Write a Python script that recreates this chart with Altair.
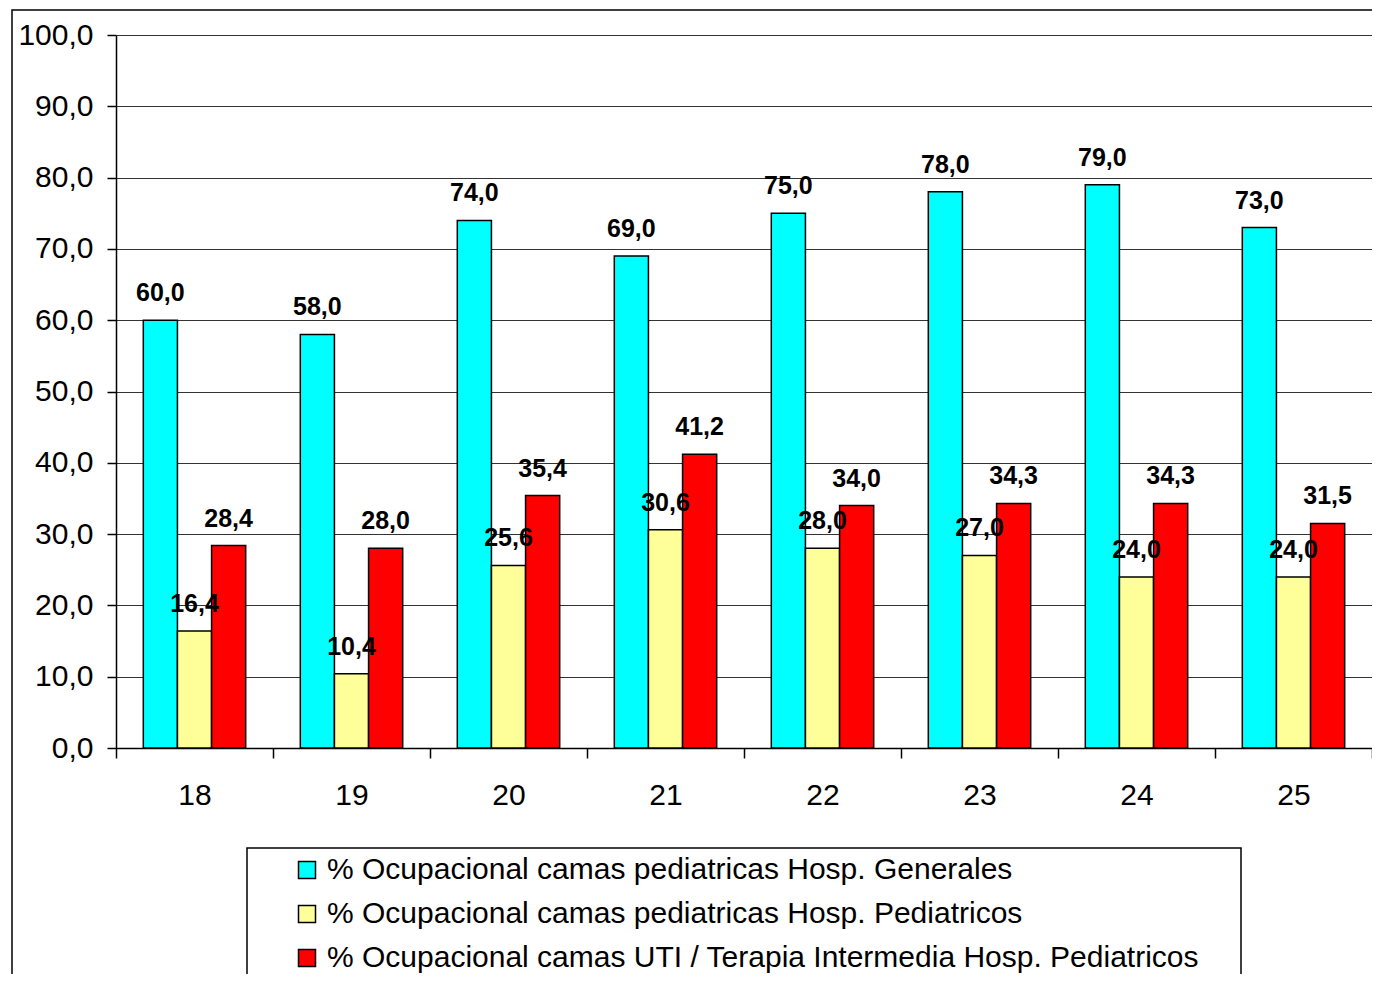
import altair as alt
import pandas as pd

categories = ["18", "19", "20", "21", "22", "23", "24", "25"]
series = [
    "% Ocupacional camas pediatricas Hosp. Generales",
    "% Ocupacional camas pediatricas Hosp. Pediatricos",
    "% Ocupacional camas UTI / Terapia Intermedia Hosp. Pediatricos",
]
generales = [60.0, 58.0, 74.0, 69.0, 75.0, 78.0, 79.0, 73.0]
pediatricos = [16.4, 10.4, 25.6, 30.6, 28.0, 27.0, 24.0, 24.0]
uti = [28.4, 28.0, 35.4, 41.2, 34.0, 34.3, 34.3, 31.5]
colors = ["#00FFFF", "#FFFF99", "#FF0000"]
y_ticks = [0, 10, 20, 30, 40, 50, 60, 70, 80, 90, 100]

rows = []
for s, vals in zip(series, [generales, pediatricos, uti]):
    for c, v in zip(categories, vals):
        rows.append({"cat": c, "serie": s, "valor": v})
df = pd.DataFrame(rows)

FONT = "Liberation Sans"

x_enc = alt.X(
    "cat:N",
    sort=categories,
    scale=alt.Scale(paddingInner=0, paddingOuter=0, round=False),
    axis=alt.Axis(
        title=None,
        labelAngle=0,
        tickBand="extent",
        labelFont=FONT,
        labelFontSize=30,
        labelColor="black",
        labelPadding=22,
        tickSize=10,
        tickColor="black",
        tickWidth=1.5,
        domainColor="black",
        domainWidth=1.5,
        grid=False,
    ),
)
xo_enc = alt.XOffset(
    "serie:N", sort=series, scale=alt.Scale(paddingInner=0, paddingOuter=0.8, round=False)
)
y_enc = alt.Y(
    "valor:Q",
    scale=alt.Scale(domain=[0, 100], nice=False),
    axis=alt.Axis(
        title=None,
        values=y_ticks,
        labelExpr="replace(format(datum.value, '.1f'), '.', ',')",
        labelFont=FONT,
        labelFontSize=30,
        labelColor="black",
        labelPadding=14,
        tickSize=9,
        tickColor="black",
        tickWidth=1.5,
        domainColor="black",
        domainWidth=1.5,
        grid=True,
        gridColor="#333333",
        gridWidth=1,
    ),
)

bars = (
    alt.Chart(df)
    .mark_bar(stroke="black", strokeWidth=1.5)
    .encode(
        x=x_enc,
        xOffset=xo_enc,
        y=y_enc,
        color=alt.Color(
            "serie:N",
            sort=series,
            scale=alt.Scale(domain=series, range=colors),
            legend=alt.Legend(
                title=None,
                orient="none",
                legendX=176,
                legendY=820,
                direction="vertical",
                symbolType="square",
                symbolSize=289,
                symbolStrokeColor="black",
                symbolStrokeWidth=1.5,
                labelFont=FONT,
                labelFontSize=30,
                labelColor="black",
                labelLimit=0,
                labelOffset=5,
                rowPadding=14,
                padding=0,
            ),
        ),
    )
)

labels = (
    alt.Chart(df)
    .transform_calculate(label="replace(format(datum.valor, '.1f'), '.', ',')")
    .mark_text(
        font=FONT,
        fontWeight="bold",
        fontSize=25,
        baseline="alphabetic",
        align="center",
        dy=-19,
        color="black",
    )
    .encode(x=x_enc, xOffset=xo_enc, y=y_enc, text="label:N")
)

frame_df = pd.DataFrame({"d": [0]})
outer_frame = (
    alt.Chart(frame_df)
    .mark_rect(fillOpacity=0, stroke="black", strokeWidth=1.5)
    .encode(x=alt.value(-104), x2=alt.value(1400), y=alt.value(-25), y2=alt.value(1000))
)
legend_frame = (
    alt.Chart(frame_df)
    .mark_rect(fillOpacity=0, stroke="black", strokeWidth=1.5)
    .encode(x=alt.value(131), x2=alt.value(1125), y=alt.value(813), y2=alt.value(1000))
)

chart = (
    alt.layer(bars, labels, outer_frame, legend_frame)
    .properties(
        width=1256,
        height=713,
        autosize=alt.AutoSizeParams(type="none"),
        padding={"left": 108, "top": 27, "right": 0, "bottom": 226},
    )
    .configure_view(fill="#E0E0E0", stroke="transparent")
    .configure(background="white")
)

chart.save("out.html", embed_options={"renderer": "svg", "actions": False})
